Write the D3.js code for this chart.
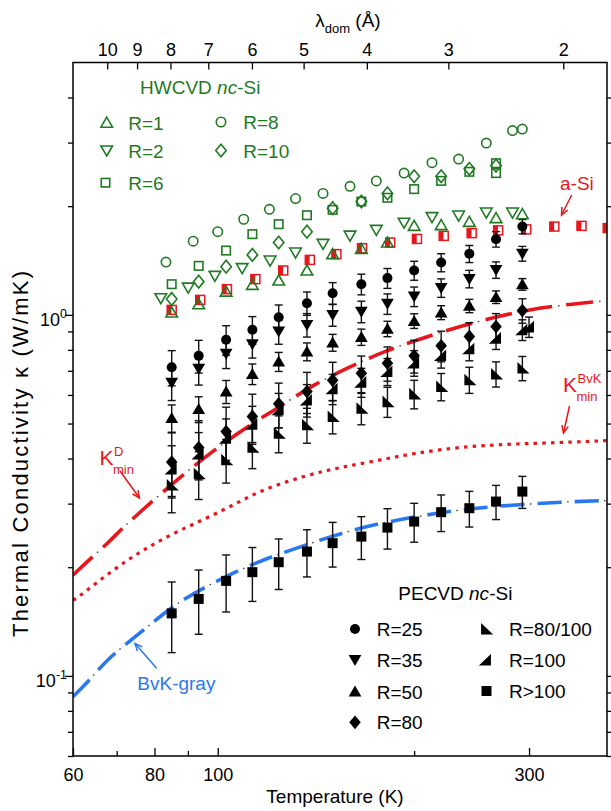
<!DOCTYPE html>
<html><head><meta charset="utf-8">
<script src="https://cdn.jsdelivr.net/npm/d3@7"></script>
<style>body{margin:0;background:#fff}svg{display:block}</style>
</head><body><svg id="c" width="611" height="811"></svg>
<script>
// ---------------- DATA ----------------
const xMajorTicks = [60, 80, 100, 300];
const xMinorTicks = [70, 90, 200];
const yMajorTicks = [0.1, 1];
const yMajorLabels = ["-1", "0"];
const yMinorTicks = [0.06,0.07,0.08,0.09,0.2,0.3,0.4,0.5,0.6,0.7,0.8,0.9,2,3,4];
const lambdaTicks = [10, 9, 8, 7, 6, 5, 4, 3, 2];
const lambdaTimesT = 677; // λ_dom (Å) = 677 / T

// HWCVD nc-Si (open green)
const hwR1_T  = [85, 93.5, 103, 113, 124, 137, 150, 166, 182, 200, 220, 243, 267, 293];
const hwR1_k  = [1.015, 1.07, 1.16, 1.211, 1.245, 1.327, 1.473, 1.523, 1.586, 1.764, 1.772, 1.81, 1.853, 1.90];
const hwR2_T  = [81.8, 90.1, 99, 109, 120.3, 131.6, 145, 159.5, 175, 193, 213, 234, 258, 283];
const hwR2_k  = [1.112, 1.19, 1.282, 1.347, 1.414, 1.488, 1.573, 1.658, 1.719, 1.80, 1.865, 1.884, 1.92, 1.92];
const hwR6_T  = [85, 93.5, 103, 113, 124, 137, 150, 166, 182, 200, 220, 243, 267, 267];
const hwR6_k  = [1.216, 1.367, 1.507, 1.673, 1.783, 1.888, 1.954, 2.06, 2.11, 2.23, 2.35, 2.49, 2.63, 2.47];
const hwR8_T  = [83.3, 91.7, 100, 109.6, 120, 131.6, 145, 159.5, 175, 193, 213, 234, 258, 283, 293];
const hwR8_k  = [1.40, 1.60, 1.70, 1.84, 1.96, 2.10, 2.17, 2.27, 2.35, 2.47, 2.64, 2.70, 2.99, 3.24, 3.27];
const hwR10_T = [85, 93.5, 103, 113, 124, 137, 150, 166, 182, 200, 220, 243, 267];
const hwR10_k = [1.107, 1.236, 1.36, 1.466, 1.586, 1.70, 1.975, 2.06, 2.17, 2.42, 2.42, 2.54, 2.59];

// a-Si (red half-filled squares)
const aSi_T = [85, 94, 103.3, 114.2, 126, 138.4, 152, 166.4, 183.8, 202, 222, 245, 269, 297, 328, 361, 396];
const aSi_k = [1.032, 1.10, 1.178, 1.256, 1.327, 1.42, 1.473, 1.53, 1.586, 1.623, 1.655, 1.684, 1.714, 1.725, 1.756, 1.764, 1.739];

// PECVD nc-Si (filled black, with error bars)
const pe_T     = [85, 93.5, 103, 113, 124, 137, 150, 166, 182, 200, 220, 243, 267, 293];
const peR25_k  = [0.716, 0.770, 0.853, 0.909, 0.985, 1.077, 1.148, 1.216, 1.264, 1.327, 1.396, 1.476, 1.62, 1.756];
const peR35_k  = [0.649, 0.709, 0.780, 0.829, 0.899, 0.938, 1.0, 1.021, 1.073, 1.124, 1.188, 1.258, 1.332, 1.478];
const peR50_k  = [0.518, 0.548, 0.613, 0.686, 0.742, 0.791, 0.838, 0.868, 0.915, 0.962, 1.015, 1.059, 1.12, 1.215];
const peR80_k  = [0.391, 0.429, 0.475, 0.523, 0.567, 0.613, 0.659, 0.689, 0.735, 0.770, 0.821, 0.871, 0.928, 1.028];
const peR80100_k = [0.338, 0.363, 0.397, 0.430, 0.470, 0.496, 0.523, 0.551, 0.575, 0.604, 0.633, 0.661, 0.686, 0.712];
const peR100_T = [85, 93.5, 103, 113, 124, 137, 150, 166, 182, 200, 220, 243, 267, 293, 300];
const peR100_k = [0.374, 0.412, 0.455, 0.498, 0.546, 0.581, 0.624, 0.651, 0.697, 0.736, 0.772, 0.806, 0.862, 0.909, 0.926];
const peRgt100_k = [0.149, 0.1634, 0.1833, 0.1938, 0.2065, 0.221, 0.2332, 0.2431, 0.2575, 0.2676, 0.2841, 0.2914, 0.304, 0.324];
// absolute error (W/mK) for each PECVD series
const peErrors = [0.08, 0.07, 0.045, 0.08, 0.055, 0.06, 0.033];

// model curves
const kD_T = [60, 63, 68, 71.3, 76.9, 86.5, 97.9, 112, 124.6, 140, 159.6, 179.5, 202, 230, 261.6, 298, 339, 395];
const kD_k = [0.190, 0.207, 0.234, 0.256, 0.2896, 0.349, 0.418, 0.496, 0.557, 0.640, 0.719, 0.791, 0.852, 0.919, 0.979, 1.032, 1.066, 1.095];
const kB_T = [60, 61.9, 69.6, 76.9, 85.5, 96.2, 107, 117.5, 137, 154, 176, 200, 238, 284, 339, 395];
const kB_k = [0.162, 0.168, 0.1987, 0.2234, 0.2485, 0.2734, 0.301, 0.329, 0.360, 0.378, 0.395, 0.414, 0.4317, 0.4392, 0.443, 0.4485];
const gray_T = [60, 61.5, 64, 68.3, 76, 85.5, 96.2, 113.4, 130.6, 154, 181.7, 216.8, 243.8, 284, 347, 395];
const gray_k = [0.0876, 0.0915, 0.0986, 0.1131, 0.1313, 0.157, 0.1776, 0.2052, 0.2244, 0.2485, 0.2676, 0.2823, 0.2906, 0.2977, 0.304, 0.306];

// ---------------- SETUP ----------------
const FONT = '"Liberation Sans", Arial, Helvetica, sans-serif';
const GREEN = '#1f7a22', RED = '#e8161c', BLUE = '#2a78f0';
const M = {l: 73, r: 607, t: 62.5, b: 756};
const x = d3.scaleLog().domain([60, 395]).range([M.l, M.r]);
const y = d3.scaleLog().domain([0.06, 5]).range([M.b, M.t]);
const xTop = d3.scaleLog().domain([lambdaTimesT / 60, lambdaTimesT / 395]).range([M.l, M.r]);

const svg = d3.select('#c').attr('font-family', FONT);
svg.append('rect').attr('width', 611).attr('height', 811).attr('fill', '#fff');
const defs = svg.append('defs');
defs.append('clipPath').attr('id', 'clip').append('rect')
  .attr('x', M.l).attr('y', M.t).attr('width', M.r - M.l).attr('height', M.b - M.t);

const plot = svg.append('g').attr('clip-path', 'url(#clip)');

const PATHS = {
  triUp:   s => `M0,${-s*0.55}L${s*0.58},${s*0.45}L${-s*0.58},${s*0.45}Z`,
  triDown: s => `M0,${s*0.55}L${s*0.58},${-s*0.45}L${-s*0.58},${-s*0.45}Z`,
  diamond: s => `M0,${-s*0.6}L${s*0.5},0L0,${s*0.6}L${-s*0.5},0Z`,
  llTri:   s => `M${-s*0.45},${-s*0.55}L${-s*0.45},${s*0.5}L${s*0.65},${s*0.5}Z`,
  lrTri:   s => `M${s*0.45},${-s*0.55}L${s*0.45},${s*0.5}L${-s*0.65},${s*0.5}Z`
};
function marker(sel, type, cx, cy, o) {
  let el;
  if (type === 'circle') el = sel.append('circle').attr('cx', cx).attr('cy', cy).attr('r', o.r);
  else if (type === 'square') el = sel.append('rect').attr('x', cx - o.s/2).attr('y', cy - o.s/2).attr('width', o.s).attr('height', o.s);
  else el = sel.append('path').attr('d', PATHS[type](o.s)).attr('transform', `translate(${cx},${cy})`);
  el.attr('fill', o.fill).attr('stroke', o.stroke).attr('stroke-width', o.sw);
  return el;
}
function aSiMarker(sel, cx, cy) {
  sel.append('rect').attr('x', cx - 4.5).attr('y', cy - 4.5).attr('width', 9).attr('height', 9)
    .attr('fill', '#fff').attr('stroke', RED).attr('stroke-width', 1.5);
  sel.append('rect').attr('x', cx - 4.5).attr('y', cy - 4.5).attr('width', 4.3).attr('height', 9).attr('fill', RED);
}

// ---------------- CURVES ----------------
const line = d3.line().x(d => x(d[0])).y(d => y(d[1])).curve(d3.curveBasis);
function curve(T, k, color, width, dash, dotDash, dotOff) {
  const pts = T.map((t, i) => [t, k[i]]);
  plot.append('path').attr('d', line(pts)).attr('fill', 'none').attr('stroke', color)
    .attr('stroke-width', width).attr('stroke-dasharray', dash);
  if (dotDash) plot.append('path').attr('d', line(pts)).attr('fill', 'none').attr('stroke', '#333')
    .attr('stroke-width', 1.3).attr('stroke-dasharray', dotDash).attr('stroke-dashoffset', dotOff);
}
curve(kD_T, kD_k, RED, 3.6, '27,14', '1.5,39.5', -33);
curve(kB_T, kB_k, RED, 3.2, '3.5,5.2');
curve(gray_T, gray_k, BLUE, 3.6, '24,13', '1.5,35.5', -29.5);

// ---------------- a-Si ----------------
const aSiG = plot.append('g');
aSi_T.forEach((t, i) => aSiMarker(aSiG, x(t), y(aSi_k[i])));

// ---------------- PECVD ----------------
const peSeries = [
  {T: pe_T, k: peR25_k, type: 'circle', o: {r: 5}},
  {T: pe_T, k: peR35_k, type: 'triDown', o: {s: 11}},
  {T: pe_T, k: peR50_k, type: 'triUp', o: {s: 11}},
  {T: pe_T, k: peR80_k, type: 'diamond', o: {s: 11.5}},
  {T: pe_T, k: peR80100_k, type: 'llTri', o: {s: 11}},
  {T: peR100_T, k: peR100_k, type: 'lrTri', o: {s: 11}},
  {T: pe_T, k: peRgt100_k, type: 'square', o: {s: 10}}
];
const errG = plot.append('g').attr('stroke', '#111').attr('stroke-width', 1.4);
const peG = plot.append('g');
peSeries.forEach((s, si) => {
  const e = peErrors[si];
  s.T.forEach((t, i) => {
    const cx = x(t), y1 = y(s.k[i] + e), y2 = y(s.k[i] - e);
    errG.append('line').attr('x1', cx).attr('x2', cx).attr('y1', y1).attr('y2', y2);
    errG.append('line').attr('x1', cx - 4).attr('x2', cx + 4).attr('y1', y1).attr('y2', y1);
    errG.append('line').attr('x1', cx - 4).attr('x2', cx + 4).attr('y1', y2).attr('y2', y2);
  });
});
peSeries.forEach(s => {
  s.T.forEach((t, i) => marker(peG, s.type, x(t), y(s.k[i]), Object.assign({fill: '#000', stroke: 'none', sw: 0}, s.o)));
});

// ---------------- HWCVD ----------------
const hwSeries = [
  {T: hwR1_T, k: hwR1_k, type: 'triUp', o: {s: 10}},
  {T: hwR2_T, k: hwR2_k, type: 'triDown', o: {s: 10}},
  {T: hwR6_T, k: hwR6_k, type: 'square', o: {s: 8.5}},
  {T: hwR8_T, k: hwR8_k, type: 'circle', o: {r: 4.7}},
  {T: hwR10_T, k: hwR10_k, type: 'diamond', o: {s: 10.5}}
];
const hwG = plot.append('g');
hwSeries.forEach(s => {
  s.T.forEach((t, i) => marker(hwG, s.type, x(t), y(s.k[i]), Object.assign({fill: 'none', stroke: GREEN, sw: 1.6}, s.o)));
});

// ---------------- AXES ----------------
function styleAxis(g) {
  g.select('.domain').remove();
  g.selectAll('line').attr('stroke', '#000').attr('stroke-width', 1.3);
  g.selectAll('text').attr('font-size', 18).attr('fill', '#000').attr('font-family', FONT);
}
svg.append('g').attr('transform', `translate(0,${M.b})`)
  .call(d3.axisBottom(x).tickValues(xMajorTicks).tickSize(-8).tickPadding(12).tickFormat(d3.format('d'))).call(styleAxis);
svg.append('g').attr('transform', `translate(0,${M.b})`)
  .call(d3.axisBottom(x).tickValues(xMinorTicks).tickSize(-5).tickFormat('')).call(styleAxis);
svg.append('g').attr('transform', `translate(0,${M.t})`)
  .call(d3.axisTop(xTop).tickValues(lambdaTicks).tickSize(-7).tickPadding(6.5).tickFormat(d3.format('d'))).call(styleAxis);
[[d3.axisRight, M.l], [d3.axisLeft, M.r]].forEach(([fn, pos]) => {
  svg.append('g').attr('transform', `translate(${pos},0)`)
    .call(fn(y).tickValues(yMajorTicks).tickSize(-8).tickFormat('')).call(styleAxis);
  svg.append('g').attr('transform', `translate(${pos},0)`)
    .call(fn(y).tickValues(yMinorTicks).tickSize(-5).tickFormat('')).call(styleAxis);
});
// y tick labels 10^n
yMajorTicks.forEach((v, i) => {
  const t = svg.append('text').attr('x', 67).attr('y', y(v) + 11).attr('text-anchor', 'end')
    .attr('font-size', 18).attr('fill', '#000');
  t.append('tspan').text('10');
  t.append('tspan').attr('dy', -8).attr('font-size', 12.5).text(yMajorLabels[i]);
});
// frame
svg.append('rect').attr('x', M.l).attr('y', M.t).attr('width', M.r - M.l).attr('height', M.b - M.t)
  .attr('fill', 'none').attr('stroke', '#000').attr('stroke-width', 1.5);

// axis titles
svg.append('text').attr('x', 335).attr('y', 803).attr('text-anchor', 'middle').attr('font-size', 19)
  .attr('fill', '#000').text('Temperature (K)');
svg.append('text').attr('transform', 'translate(28,454) rotate(-90)').attr('text-anchor', 'middle')
  .attr('font-size', 22).attr('fill', '#000')
  .attr('textLength', 366).attr('lengthAdjust', 'spacing').text('Thermal Conductivity κ (W/mK)');
const lt = svg.append('text').attr('x', 348).attr('y', 27).attr('text-anchor', 'middle').attr('font-size', 19).attr('fill', '#000');
lt.append('tspan').text('λ');
lt.append('tspan').attr('dy', 6).attr('font-size', 13).text('dom');
lt.append('tspan').attr('dy', -6).text(' (Å)');

// ---------------- LEGENDS ----------------
function title(xp, yp, name, color) {
  const t = svg.append('text').attr('x', xp).attr('y', yp).attr('font-size', 19).attr('fill', color);
  t.append('tspan').text(name + ' ');
  t.append('tspan').attr('font-style', 'italic').text('nc');
  t.append('tspan').text('-Si');
}
title(140, 94, 'HWCVD', GREEN);
const hwLegend = [
  {label: 'R=1', si: 0, mx: 106.7, tx: 128.3, y: 122.7},
  {label: 'R=2', si: 1, mx: 106.7, tx: 128.3, y: 150.5},
  {label: 'R=6', si: 2, mx: 105.5, tx: 128.3, y: 182.7},
  {label: 'R=8', si: 3, mx: 221, tx: 243.3, y: 122},
  {label: 'R=10', si: 4, mx: 221, tx: 243.3, y: 150.5}
];
hwLegend.forEach(L => {
  const s = hwSeries[L.si];
  marker(svg, s.type, L.mx, L.y, Object.assign({fill: 'none', stroke: GREEN, sw: 1.6}, s.o));
  svg.append('text').attr('x', L.tx).attr('y', L.y + 7).attr('font-size', 19).attr('fill', GREEN).text(L.label);
});

title(398.3, 600, 'PECVD', '#000');
const peLegend = [
  {label: 'R=25', si: 0, mx: 355, tx: 376.7, y: 629},
  {label: 'R=35', si: 1, mx: 355, tx: 376.7, y: 660},
  {label: 'R=50', si: 2, mx: 355, tx: 376.7, y: 691.5},
  {label: 'R=80', si: 3, mx: 355, tx: 376.7, y: 722.3},
  {label: 'R=80/100', si: 4, mx: 486, tx: 509, y: 629},
  {label: 'R=100', si: 5, mx: 486, tx: 509, y: 660},
  {label: 'R>100', si: 6, mx: 486.5, tx: 509, y: 691}
];
peLegend.forEach(L => {
  const s = peSeries[L.si];
  marker(svg, s.type, L.mx, L.y, Object.assign({fill: '#000', stroke: 'none', sw: 0}, s.o));
  svg.append('text').attr('x', L.tx).attr('y', L.y + 7).attr('font-size', 19).attr('fill', '#000').text(L.label);
});

// ---------------- ANNOTATIONS ----------------
function arrow(x1, y1, x2, y2, color) {
  svg.append('line').attr('x1', x1).attr('y1', y1).attr('x2', x2).attr('y2', y2)
    .attr('stroke', color).attr('stroke-width', 1.5);
  const a = Math.atan2(y2 - y1, x2 - x1), L = 8, w = 0.42;
  const p1 = [x2 - L * Math.cos(a - w), y2 - L * Math.sin(a - w)];
  const p2 = [x2 - L * Math.cos(a + w), y2 - L * Math.sin(a + w)];
  svg.append('path').attr('d', `M${p1}L${x2},${y2}L${p2}`).attr('fill', 'none')
    .attr('stroke', color).attr('stroke-width', 1.5);
}
svg.append('text').attr('x', 560).attr('y', 189.5).attr('font-size', 19).attr('fill', RED).text('a-Si');
arrow(571.7, 195, 561.5, 215, RED);

function kmin(xp, yp, sup, color) {
  svg.append('text').attr('x', xp).attr('y', yp).attr('font-size', 21).attr('fill', color).text('K');
  svg.append('text').attr('x', xp + 14.5).attr('y', yp - 9).attr('font-size', 13).attr('fill', color).text(sup);
  svg.append('text').attr('x', xp + 13.5).attr('y', yp + 9).attr('font-size', 13).attr('fill', color).text('min');
}
kmin(99.5, 465, 'D', RED);
arrow(120, 471, 139.5, 498, RED);
kmin(563, 392, 'BvK', RED);
arrow(569.5, 406, 563.5, 433, RED);

svg.append('text').attr('x', 137.3).attr('y', 690).attr('font-size', 19).attr('fill', BLUE).text('BvK-gray');
arrow(156.7, 668.3, 135, 643.5, BLUE);
</script></body></html>
